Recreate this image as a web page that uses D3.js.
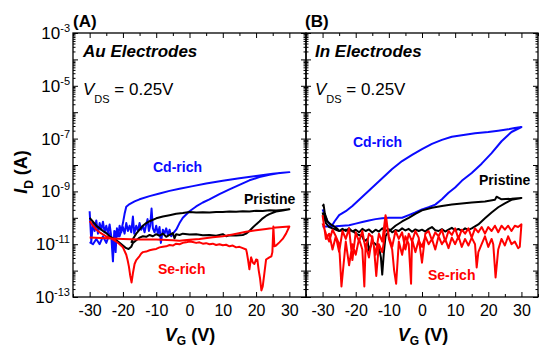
<!DOCTYPE html>
<html>
<head>
<meta charset="utf-8">
<script src="https://cdn.jsdelivr.net/npm/d3@7"></script>
<style>
  body { margin: 0; background: #fff; }
  svg { display: block; }
  text { font-family: "Liberation Sans", Arial, sans-serif; }
</style>
</head>
<body>
<svg id="chart" width="540" height="349"></svg>
<script>
// values are [V_G (V), log10 of I_D (A)]

// ---- (A) Au electrodes ----
const auCdRich = [
  [-30,-9.75],[-29.5,-10.9],[-29,-10.2],[-28.5,-10.5],[-28,-10.1],[-27.5,-10.6],[-27,-10.2],[-26.5,-10.45],
  [-26,-10.15],[-25.5,-10.55],[-25,-10.3],[-24.5,-10.6],[-24,-10.25],[-23.5,-10.7],[-23,-11.65],[-22.6,-10.5],
  [-22.2,-11.3],[-21.8,-10.4],[-21.4,-10.7],[-21,-10.3],[-20.5,-10.55],[-20,-10.35],[-19.5,-10.6],[-19,-10.2],
  [-18.5,-10.5],[-18,-10.3],[-17.5,-10.55],[-17,-9.95],[-16.6,-10.6],[-16,-10.3],[-15.5,-10.5],[-15,-10.2],
  [-14.5,-10.45],[-14,-10.3],[-13.5,-10.55],[-13,-10.25],[-12.6,-10.05],[-12.2,-10.5],[-11.8,-10.3],[-11.4,-9.65],
  [-11,-10.4],[-10.5,-10.55],[-10,-10.3],[-9.5,-10.6],[-9,-10.35],[-8.6,-10.95],[-8,-10.45],[-7.5,-10.6],
  [-7,-10.4],[-6.5,-10.65],[-6,-10.45],[-5.5,-10.7],[-5,-10.6],[-4,-10.45],[-3,-10.2],[-2,-10.0],
  [0,-9.75],[2,-9.57],[4,-9.42],[6,-9.3],[9,-9.1],[12,-8.92],[15,-8.75],[18,-8.58],[21,-8.46],[24,-8.37],
  [27,-8.3],[30,-8.27],
  [28,-8.29],[25,-8.33],[20,-8.42],[15,-8.5],[10,-8.6],[5,-8.7],[1,-8.8],[-3,-8.9],[-6,-8.98],[-9,-9.08],
  [-12,-9.18],[-15,-9.3],[-16.5,-9.38],[-18,-9.48],[-19,-9.58],[-19.5,-9.85],[-20,-10.2],[-20.5,-10.5],
  [-21,-10.7],[-22,-10.5],[-23,-10.9],[-24,-10.6],[-25,-10.95],[-26,-10.7],[-27,-11.0],[-28,-10.8],
  [-29,-11.0],[-30,-10.92]
];
const auPristine = [
  [-30,-10.0],[-29,-10.15],[-28,-10.3],[-27,-10.4],[-26,-10.5],[-25,-10.58],[-24,-10.7],[-23,-10.78],
  [-22,-10.85],[-21,-10.95],[-20,-11.05],[-19,-11.15],[-18.3,-11.18],[-17.5,-11.1],[-17,-10.95],[-16,-10.85],
  [-15,-10.75],[-14,-10.7],[-13,-10.72],[-12,-10.65],[-11,-10.7],[-10,-10.62],[-9,-10.68],[-8,-10.6],
  [-7,-10.72],[-6,-10.65],[-5,-10.58],[-4.5,-10.78],[-4,-10.62],[-3,-10.65],[-2,-10.6],[0,-10.63],
  [2,-10.62],[4,-10.66],[6,-10.65],[8,-10.68],[10,-10.62],[11,-10.7],[12,-10.66],[14,-10.67],
  [16,-10.65],[17,-10.6],[18,-10.5],[19,-10.37],[20,-10.25],[21,-10.14],[22,-10.02],[23,-9.93],
  [24,-9.86],[26,-9.76],[28,-9.72],[30,-9.68],
  [28,-9.7],[26,-9.72],[24,-9.71],[22,-9.74],[20,-9.73],[18,-9.76],[16,-9.75],[14,-9.77],[12,-9.76],
  [10,-9.78],[8,-9.78],[6,-9.8],[4,-9.79],[2,-9.8],[0,-9.78],[-2,-9.82],[-4,-9.85],[-6,-9.9],[-8,-9.95],
  [-10,-10.02],[-12,-10.13],[-13,-10.2],[-14,-10.3],[-15,-10.45],[-16,-10.6],[-17,-10.8],[-17.5,-10.95]
];
const auSeRich = [
  [-30,-10.75],[-25,-10.77],[-20,-10.8],[-15,-10.82],[-10,-10.82],[-5,-10.85],[-3,-10.87],[0,-10.83],
  [3,-10.8],[7,-10.74],[10,-10.7],[13,-10.63],[17,-10.53],[20,-10.47],[23,-10.42],[26,-10.37],[28,-10.35],
  [30,-10.33],
  [29,-10.6],[28,-10.8],[27,-10.93],[26,-11.05],[25.5,-11.08],[25.2,-10.33],[24.9,-11.3],[24.6,-11.46],
  [24,-11.5],[23,-11.58],[22.5,-12.1],[22,-12.6],[21.6,-12.75],[21.2,-12.3],[20.8,-12.0],[20.4,-11.6],
  [20,-11.58],[19.5,-11.75],[19,-11.69],[18.5,-11.5],[18,-11.95],[17.6,-11.6],[17.2,-11.3],[17,-11.2],
  [16,-11.15],[15,-11.1],[14,-11.12],[13,-11.05],[12,-11.08],[11,-11.02],[10,-11.04],[9,-11.0],
  [8,-11.03],[7,-10.98],[6,-11.0],[5,-10.96],[4,-10.98],[3,-10.93],[2,-10.95],[1,-10.92],[0,-10.9],
  [-1,-10.93],[-2,-10.95],[-3,-11.0],[-4,-10.98],[-5,-11.05],[-6,-11.03],[-7,-11.08],[-8,-11.1],
  [-9,-11.12],[-10,-11.18],[-11,-11.2],[-12,-11.23],[-13,-11.28],[-14,-11.3],[-14.5,-11.35],[-15,-11.45],
  [-16,-11.6],[-16.5,-11.75],[-17,-12.1],[-17.4,-12.45],[-17.8,-12.2],[-18.2,-11.85],[-18.6,-11.6],
  [-19,-11.4],[-20,-11.12],[-21,-11.0],[-22,-10.9],[-23,-10.82],[-24,-10.76],[-25,-10.7],[-26,-10.63],
  [-27,-10.55],[-28,-10.45],[-29,-10.3],[-30,-10.12]
];

// ---- (B) In electrodes ----
const inCdRich = [
  [-30,-10.33],[-28,-10.33],[-26,-10.32],[-24,-10.3],[-22,-10.28],[-20,-10.22],[-18,-10.16],[-16,-10.1],
  [-14,-10.05],[-12,-10.02],[-10,-10.0],[-8,-10.0],[-6,-10.0],[-4,-9.9],[-2,-9.8],[0,-9.68],[2,-9.6],
  [4,-9.5],[6,-9.3],[8,-9.05],[10,-8.85],[12,-8.6],[15,-8.3],[18,-7.95],[21,-7.55],[24,-7.1],[27,-6.75],
  [30,-6.56],
  [28,-6.6],[26,-6.65],[23,-6.7],[20,-6.75],[16,-6.8],[12,-6.87],[9,-6.93],[6,-7.05],[3,-7.2],[0,-7.4],
  [-3,-7.62],[-6,-7.85],[-9,-8.15],[-12,-8.5],[-15,-8.85],[-18,-9.2],[-21,-9.55],[-23,-9.75],[-25,-9.9],
  [-26.4,-10.14],[-27.3,-10.33],[-28.5,-10.14],[-30,-9.68]
];
const inPristine = [
  [-30,-9.57],[-29.7,-9.5],[-29.3,-9.85],[-28.5,-10.14],[-27.5,-10.25],[-26.5,-10.33],[-25.5,-10.42],
  [-25,-10.5],[-24,-10.42],[-23,-10.5],[-22,-10.4],[-21,-10.52],[-20,-10.45],[-19,-10.55],[-18,-10.42],
  [-17,-10.5],[-16,-10.44],[-15,-10.56],[-14,-10.45],[-13,-10.52],[-12,-10.4],[-11,-10.5],[-10,-10.43],
  [-9,-10.55],[-8,-10.46],[-7,-10.5],[-6,-10.4],[-5,-10.48],[-4,-10.42],[-3,-10.53],[-2,-10.44],
  [-1,-10.5],[0,-10.45],[1,-10.52],[2,-10.42],[3,-10.35],[4,-10.47],[5,-10.5],[6,-10.43],[7,-10.52],
  [8,-10.45],[9,-10.38],[10,-10.48],[11,-10.42],[12,-10.5],[13,-10.4],[14,-10.46],[15,-10.4],
  [17,-10.25],[19,-10.02],[21,-9.8],[23,-9.6],[25,-9.45],[27,-9.32],[30,-9.25],
  [27,-9.28],[24,-9.3],[22.5,-9.2],[22,-9.32],[19,-9.38],[15,-9.42],[12,-9.46],[9,-9.5],[6,-9.55],
  [3,-9.62],[0,-9.72],[-2,-9.85],[-4,-10.0],[-6,-10.14],[-8,-10.3],[-9.3,-10.44],[-10,-10.5],
  [-11,-10.7],[-11.5,-11.3],[-12,-12.15],[-12.4,-11.5],[-13,-11.12],[-14,-11.0],[-15,-10.9],
  [-16,-11.25],[-16.5,-10.8],[-17.4,-10.89],[-18,-10.7],[-19.5,-10.63],[-21,-10.5],[-23,-10.45],
  [-25,-10.5],[-27,-10.4],[-28,-10.35],[-29,-10.2],[-30,-9.8]
];
const inSeRich = [
  [-30,-10.2],[-29,-10.6],[-28,-10.9],[-27,-10.45],[-26,-10.7],[-25,-11.3],[-24,-10.5],[-23,-10.8],
  [-22,-10.4],[-21,-11.6],[-20,-10.55],[-19,-10.9],[-18,-10.5],[-17,-11.2],[-16,-10.6],[-15,-10.75],
  [-14,-11.4],[-13,-10.6],[-12,-10.9],[-11,-9.9],[-10,-10.7],[-9,-11.1],[-8,-10.5],[-7,-10.8],
  [-6,-10.55],[-5,-11.2],[-4,-10.6],[-3,-10.9],[-2,-10.5],[-1,-10.75],[0,-11.7],[1,-10.6],[2,-10.5],
  [3,-10.85],[4,-10.55],[5,-10.7],[6,-10.45],[7,-10.9],[8,-10.5],[9,-10.65],[10,-10.4],[11,-10.8],
  [12,-10.45],[13,-10.6],[14,-10.4],[15,-10.75],[16,-10.4],[17,-10.55],[18,-10.35],[19,-10.6],
  [20,-10.35],[21,-10.5],[22,-10.3],[23,-10.55],[24,-10.3],[25,-10.45],[26,-10.3],[27,-10.5],
  [28,-10.3],[29,-10.35],[30,-10.25],
  [29.5,-11.1],[29,-11.15],[28,-10.9],[27,-11.0],[26,-10.7],[25,-11.05],[24,-10.8],[23,-11.2],
  [22.2,-12.26],[21.5,-11.0],[21,-10.8],[20,-11.1],[19,-10.7],[18,-11.0],[17,-11.3],[16.5,-11.88],
  [16,-11.0],[15,-10.75],[14,-11.05],[13,-10.8],[12,-11.1],[11,-10.7],[10,-11.0],[9,-10.75],
  [8,-11.15],[7,-10.8],[6,-11.0],[5,-10.7],[4,-11.2],[3,-10.8],[2,-11.0],[1,-10.7],[0,-11.1],
  [-1,-10.85],[-2,-11.3],[-3,-10.8],[-3.3,-12.5],[-4,-11.0],[-5,-10.7],[-6,-11.4],[-7,-10.9],
  [-7.8,-12.5],[-8.4,-12.0],[-9,-11.2],[-10,-10.8],[-10.8,-9.98],[-11.5,-10.9],[-12,-11.3],[-13,-11.0],
  [-13.8,-12.2],[-14.5,-11.1],[-15,-10.7],[-16,-11.5],[-17,-11.0],[-17.4,-12.6],[-18,-11.2],[-19,-10.8],
  [-20,-11.4],[-21,-11.0],[-22,-11.8],[-23,-10.9],[-24.3,-12.6],[-25,-11.0],[-26,-10.7],[-27,-11.2],
  [-28,-10.6],[-29,-10.8],[-30,-9.9]
];

const xDomain = [-35, 35];
const xMajorTicks = [-30, -20, -10, 0, 10, 20, 30];
const yLabelExps = [-3, -5, -7, -9, -11, -13];

const colors = { cd: "#0a0aff", pristine: "#000000", se: "#ff0000" };

const svg = d3.select("#chart");
const plotTop = 33, plotBottom = 297;

const y = d3.scaleLog().domain([1e-13, 1e-3]).range([plotBottom, plotTop]);

function drawPanel(left, right, series, showYLabels) {
  const x = d3.scaleLinear().domain(xDomain).range([left, right]);
  const g = svg.append("g");

  const line = d3.line()
    .x(d => x(d[0]))
    .y(d => y(Math.pow(10, d[1])));

  // curves
  series.forEach(s => {
    g.append("path")
      .attr("d", line(s.data))
      .attr("fill", "none")
      .attr("stroke", s.color)
      .attr("stroke-width", 2)
      .attr("stroke-linejoin", "round");
  });

  const xMinor = d3.range(-35, 36, 5).filter(v => v % 10 !== 0);
  const decades = d3.range(-13, -2).map(e => Math.pow(10, e));
  const yMinor = [];
  decades.slice(0, -1).forEach(d => { for (let k = 2; k <= 9; k++) yMinor.push(d * k); });

  const styleAxis = a => {
    a.select(".domain").remove();
    a.selectAll("line").attr("stroke", "#000").attr("stroke-width", 1);
  };

  // bottom
  g.append("g").attr("transform", `translate(0,${plotBottom})`)
    .call(d3.axisBottom(x).tickValues(xMajorTicks).tickSize(-5).tickPadding(8).tickFormat(d => String(d)))
    .call(styleAxis)
    .call(a => a.selectAll("text").attr("font-size", "16px")
      .attr("font-family", '"Liberation Sans", Arial, sans-serif').attr("fill", "#000"));
  g.append("g").attr("transform", `translate(0,${plotBottom})`)
    .call(d3.axisBottom(x).tickValues(xMinor).tickSize(-3).tickFormat(""))
    .call(styleAxis);
  // top
  g.append("g").attr("transform", `translate(0,${plotTop})`)
    .call(d3.axisTop(x).tickValues(xMajorTicks).tickSize(-5).tickFormat(""))
    .call(styleAxis);
  g.append("g").attr("transform", `translate(0,${plotTop})`)
    .call(d3.axisTop(x).tickValues(xMinor).tickSize(-3).tickFormat(""))
    .call(styleAxis);

  // left
  g.append("g").attr("transform", `translate(${left},0)`)
    .call(d3.axisLeft(y).tickValues(decades).tickSize(-5).tickFormat(""))
    .call(styleAxis);
  g.append("g").attr("transform", `translate(${left},0)`)
    .call(d3.axisLeft(y).tickValues(yMinor).tickSize(-2.5).tickFormat(""))
    .call(styleAxis);
  // right
  g.append("g").attr("transform", `translate(${right},0)`)
    .call(d3.axisRight(y).tickValues(decades).tickSize(-5).tickFormat(""))
    .call(styleAxis);
  g.append("g").attr("transform", `translate(${right},0)`)
    .call(d3.axisRight(y).tickValues(yMinor).tickSize(-2.5).tickFormat(""))
    .call(styleAxis);

  if (showYLabels) {
    yLabelExps.forEach(e => {
      const t = g.append("text")
        .attr("x", left - 3)
        .attr("y", y(Math.pow(10, e)) + 6)
        .attr("text-anchor", "end")
        .attr("font-size", "17px")
        .attr("fill", "#000");
      t.append("tspan").text("10");
      t.append("tspan").attr("font-size", "11px").attr("dy", "-7").text(String(e));
    });
  }

  // frame
  g.append("rect")
    .attr("x", left).attr("y", plotTop)
    .attr("width", right - left).attr("height", plotBottom - plotTop)
    .attr("fill", "none").attr("stroke", "#000").attr("stroke-width", 1.3);

  return x;
}

drawPanel(73, 306, [
  { data: auCdRich, color: colors.cd },
  { data: auPristine, color: colors.pristine },
  { data: auSeRich, color: colors.se }
], true);

drawPanel(306, 538, [
  { data: inCdRich, color: colors.cd },
  { data: inPristine, color: colors.pristine },
  { data: inSeRich, color: colors.se }
], false);

// panel letters
svg.append("text").attr("x", 73).attr("y", 27).attr("font-size", "17px").attr("font-weight", "bold").text("(A)");
svg.append("text").attr("x", 305).attr("y", 27).attr("font-size", "17px").attr("font-weight", "bold").text("(B)");

// panel headings
function heading(x0, title) {
  svg.append("text").attr("x", x0).attr("y", 57)
    .attr("font-size", "17px").attr("font-weight", "bold").attr("font-style", "italic")
    .text(title);
  const t = svg.append("text").attr("x", x0).attr("y", 95).attr("font-size", "17px");
  t.append("tspan").attr("font-style", "italic").text("V");
  t.append("tspan").attr("font-size", "11px").attr("dy", 8).text("DS");
  t.append("tspan").attr("dy", -8).text(" = 0.25V");
}
heading(83, "Au Electrodes");
heading(315, "In Electrodes");

// series labels
const seriesLabels = [
  { x: 153, y: 172, text: "Cd-rich", color: colors.cd },
  { x: 244, y: 204, text: "Pristine", color: colors.pristine },
  { x: 158, y: 274, text: "Se-rich", color: colors.se },
  { x: 353, y: 147, text: "Cd-rich", color: colors.cd },
  { x: 479, y: 185, text: "Pristine", color: colors.pristine },
  { x: 428, y: 280, text: "Se-rich", color: colors.se }
];
seriesLabels.forEach(l => {
  svg.append("text").attr("x", l.x).attr("y", l.y)
    .attr("font-size", "14px").attr("font-weight", "bold")
    .attr("fill", l.color).text(l.text);
});

// axis titles
function xTitle(cx) {
  const t = svg.append("text").attr("x", cx).attr("y", 341)
    .attr("text-anchor", "middle").attr("font-size", "18px").attr("font-weight", "bold");
  t.append("tspan").attr("font-style", "italic").text("V");
  t.append("tspan").attr("font-size", "12px").attr("dy", 4).text("G");
  t.append("tspan").attr("dy", -4).text(" (V)");
}
xTitle(190);
xTitle(423);

const yt = svg.append("text")
  .attr("transform", "translate(27,172) rotate(-90)")
  .attr("text-anchor", "middle").attr("font-size", "18px").attr("font-weight", "bold");
yt.append("tspan").attr("font-style", "italic").text("I");
yt.append("tspan").attr("font-size", "12px").attr("dy", 6).text("D");
yt.append("tspan").attr("dy", -6).text(" (A)");
</script>
</body>
</html>
